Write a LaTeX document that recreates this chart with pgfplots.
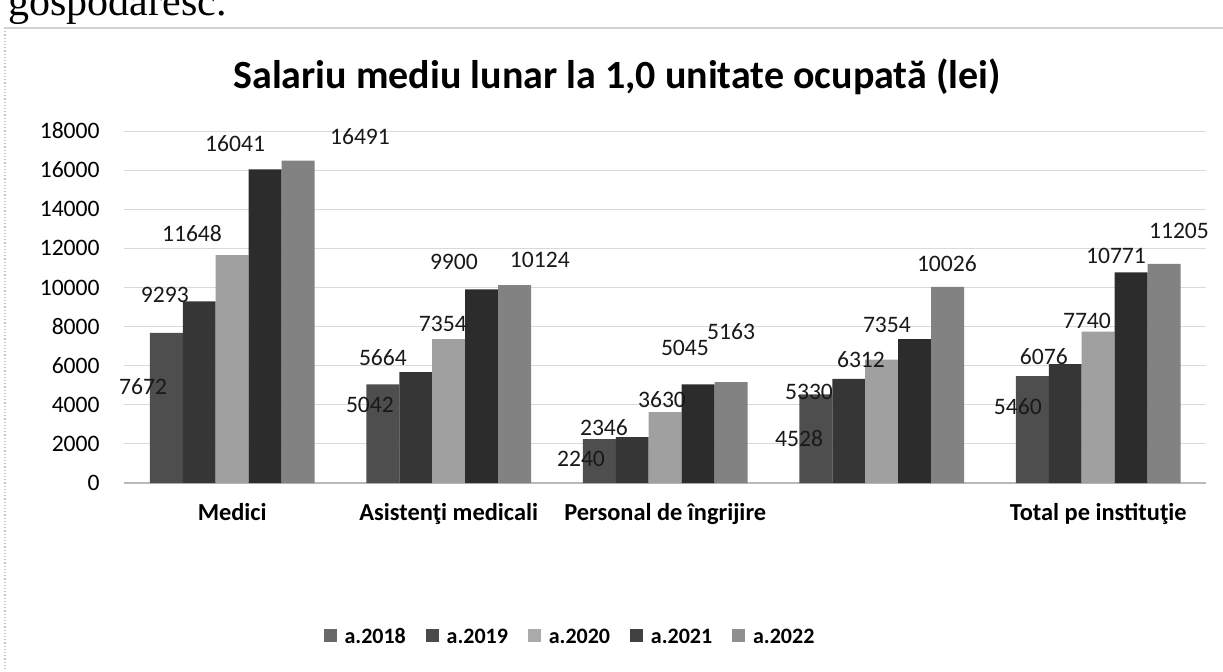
\documentclass[border=0pt]{standalone}
\usepackage{fontspec}
\setmainfont{Carlito}
\newfontfamily\pagefont{Liberation Serif}
\usepackage{pgfplots}
\usepackage{pgfplotstable}
\pgfplotsset{compat=1.18}

\definecolor{c18}{HTML}{4E4E4E}
\definecolor{c19}{HTML}{363636}
\definecolor{c20}{HTML}{A0A0A0}
\definecolor{c21}{HTML}{2C2C2C}
\definecolor{c22}{HTML}{828282}

% label positions (x in category units, y in data units) and text
\pgfplotstableread{
x      y      lab
-0.412 4909   7672
-0.311 9614   9293
-0.186 12754  11648
0.013  17336  16041
0.590  17695  16491
0.636  3989   5042
0.696  6392   5664
0.973  8131   7354
1.024  11302  9900
1.421  11404  10124
1.611  1227   2240
1.717  2813   2346
1.985  4245   3630
2.091  6899   5045
2.304  7718   5163
2.618  2250   4528
2.664  4654   5330
2.904  6290   6312
3.024  8080   7354
3.301  11200  10026
3.629  3887   5460
3.749  6444   6076
3.948  8285   7740
4.082  11609  10771
4.373  12887  11205
}\labeltable

\begin{document}
\begin{tikzpicture}[x=1pt,y=1pt]
\useasboundingbox (-62,-94) rectangle (549.5,241.5);
\draw[gray!35, line width=0.6pt] (-60,227.5) -- (549.5,227.5);
\draw[gray!45, densely dotted, line width=0.6pt] (-59.5,227.5) -- (-59.5,-94);
\node[anchor=base west, inner sep=0pt, font=\pagefont\fontsize{21}{21}\selectfont] at (-58,233.5) {gospodaresc.};
\node[anchor=base, inner sep=0pt, font=\bfseries\fontsize{20}{22}\selectfont] at (246.5,197) {Salariu mediu lunar la 1,0 unitate ocupată (lei)};

\begin{axis}[
  at={(0,0)}, anchor=south west,
  scale only axis,
  width=541.25pt, height=176pt,
  xmin=-0.5, xmax=4.5,
  ymin=0, ymax=18000,
  ytick={0,2000,...,18000},
  xtick={0,1,2,3,4},
  xticklabels={Medici, {\raisebox{-4pt}{Asistenţi medicali}}, Personal de îngrijire, {}, Total pe instituţie},
  axis x line*=bottom, axis y line*=left,
  y axis line style={draw=none},
  x axis line style={draw=gray!55, line width=0.8pt},
  major tick length=0pt,
  ymajorgrids,
  grid style={draw=gray!30, line width=0.5pt},
  scaled y ticks=false,
  /pgf/number format/assume math mode=true,
  y tick label style={/pgf/number format/1000 sep={}, font=\fontsize{11.8}{13}\selectfont, anchor=east, inner sep=0pt, xshift=-12pt},
  x tick label style={font=\bfseries\fontsize{12.2}{14}\selectfont, anchor=north, inner sep=0pt, yshift=-10pt},
  legend style={at={(0.413,-0.432)}, anchor=center, draw=none, fill=none,
    legend columns=5, font=\bfseries\fontsize{11}{13}\selectfont,
    nodes={text height=8pt, text depth=0pt},
    /tikz/every odd column/.append style={column sep=2pt},
    /tikz/every even column/.append style={column sep=8pt}},
  legend cell align=left,
]
\addplot[ybar, bar width=0.1524, bar shift=-0.3048, fill=c18, draw=none, forget plot]
  coordinates {(0,7672) (1,5042) (2,2240) (3,4528) (4,5460)};
\addplot[ybar, bar width=0.1524, bar shift=-0.1524, fill=c19, draw=none, forget plot]
  coordinates {(0,9293) (1,5664) (2,2346) (3,5330) (4,6076)};
\addplot[ybar, bar width=0.1524, bar shift=0, fill=c20, draw=none, forget plot]
  coordinates {(0,11648) (1,7354) (2,3630) (3,6312) (4,7740)};
\addplot[ybar, bar width=0.1524, bar shift=0.1524, fill=c21, draw=none, forget plot]
  coordinates {(0,16041) (1,9900) (2,5045) (3,7354) (4,10771)};
\addplot[ybar, bar width=0.1524, bar shift=0.3048, fill=c22, draw=none, forget plot]
  coordinates {(0,16491) (1,10124) (2,5163) (3,10026) (4,11205)};

\addplot[only marks, mark=none, forget plot,
  nodes near coords, point meta=explicit symbolic,
  nodes near coords align={center},
  every node near coord/.append style={anchor=center, inner sep=0pt,
    font=\fontsize{11.8}{13}\selectfont, text=black!90}]
  table[x=x, y=y, meta=lab] {\labeltable};

\addlegendimage{legend image code/.code={\fill[c18!85!white] (-1pt,-3pt) rectangle (5pt,3pt);}}
\addlegendentry{a.2018}
\addlegendimage{legend image code/.code={\fill[c19!90!white] (-1pt,-3pt) rectangle (5pt,3pt);}}
\addlegendentry{a.2019}
\addlegendimage{legend image code/.code={\fill[c20!90!white] (-1pt,-3pt) rectangle (5pt,3pt);}}
\addlegendentry{a.2020}
\addlegendimage{legend image code/.code={\fill[c21!90!white] (-1pt,-3pt) rectangle (5pt,3pt);}}
\addlegendentry{a.2021}
\addlegendimage{legend image code/.code={\fill[c22!90!white] (-1pt,-3pt) rectangle (5pt,3pt);}}
\addlegendentry{a.2022}
\end{axis}
\end{tikzpicture}
\end{document}
